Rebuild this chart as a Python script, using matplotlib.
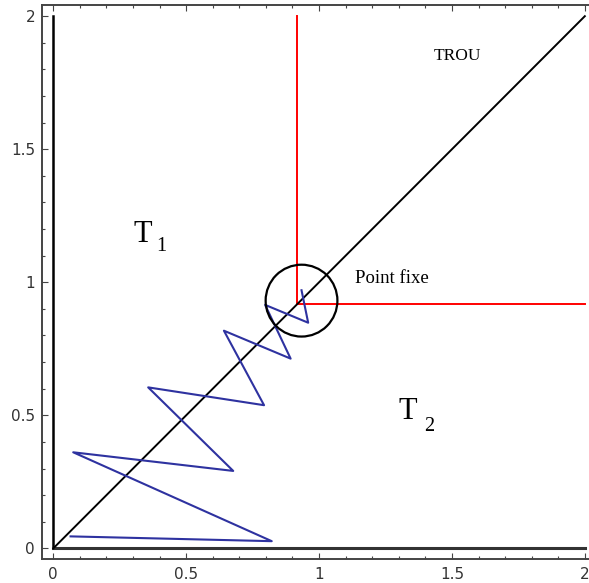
import matplotlib.pyplot as plt
from matplotlib.patches import Circle

# zigzag path (successive iterates)
path_x = [0.934, 0.959, 0.797, 0.893, 0.642, 0.793, 0.357, 0.677, 0.075, 0.822, 0.065]
path_y = [0.970, 0.848, 0.915, 0.713, 0.818, 0.538, 0.605, 0.291, 0.361, 0.027, 0.045]

# fixed point and the "hole" boundary
fix = 0.917
circle_center = (0.934, 0.931)
circle_r = 0.135

# axis lines drawn inside the plot
diag = [0, 2]

fig = plt.figure(figsize=(5.89, 5.83), dpi=100)
ax = fig.add_axes([42/589, 24/583, 554/589, 554/583])

ax.plot([0, 0], [0, 2], color='black', lw=1.8, zorder=3)
ax.plot([0, 2], [0, 0], color='#333333', lw=2.2, zorder=3)
ax.plot(diag, diag, color='black', lw=1.4, zorder=3)

# red lines from the fixed point
ax.plot([fix, fix], [fix, 2], color='red', lw=1.4, zorder=2)
ax.plot([fix, 2], [fix, fix], color='red', lw=1.4, zorder=2)

ax.plot(path_x, path_y, color='#2e32a0', lw=1.5, zorder=4)

ax.add_patch(Circle(circle_center, circle_r, fill=False, edgecolor='black', lw=1.6, zorder=5))

serif = 'Liberation Serif'
ax.text(1.52, 1.85, 'TROU', family=serif, fontsize=12.5, ha='center', va='center')
ax.text(1.274, 1.016, 'Point fixe', family=serif, fontsize=13.5, ha='center', va='center')
ax.text(0.335, 1.178, 'T', family=serif, fontsize=22, ha='center', va='center')
ax.text(0.407, 1.136, '1', family=serif, fontsize=14.5, ha='center', va='center')
ax.text(1.334, 0.513, 'T', family=serif, fontsize=22, ha='center', va='center')
ax.text(1.414, 0.458, '2', family=serif, fontsize=14.5, ha='center', va='center')

ax.set_xlim(-0.0425, 2.042)
ax.set_ylim(-0.040, 2.042)
ax.set_xticks([0, 0.5, 1, 1.5, 2])
ax.set_xticklabels(['0', '0.5', '1', '1.5', '2'])
ax.set_yticks([0, 0.5, 1, 1.5, 2])
ax.set_yticklabels(['0', '0.5', '1', '1.5', '2'])
ax.set_xticks([i / 10 for i in range(21)], minor=True)
ax.set_yticks([i / 10 for i in range(21)], minor=True)

ax.spines['right'].set_visible(False)
for s in ['left', 'bottom', 'top']:
    ax.spines[s].set_color('#444444')
    ax.spines[s].set_linewidth(1.4)
ax.tick_params(which='both', direction='in', top=True, color='#444444', labelcolor='#333333', labelsize=11)
ax.tick_params(which='major', length=4.5, width=0.8)
ax.tick_params(which='minor', length=2.2, width=0.8)
ax.tick_params(axis='x', pad=6)
ax.tick_params(axis='y', pad=5)

fig.savefig('out.png', dpi=100)
